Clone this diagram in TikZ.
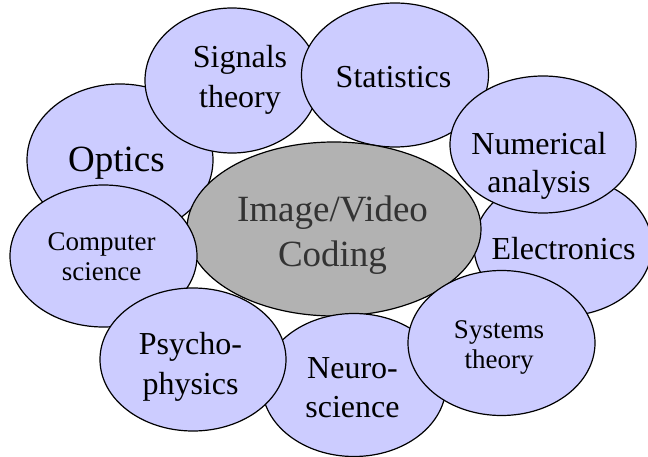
\documentclass[tikz,border=0pt]{standalone}
\usepackage{fontspec}
\setmainfont{Liberation Serif}
\usetikzlibrary{shapes.geometric}
\definecolor{lav}{HTML}{CCCCFF}
\definecolor{hubgray}{HTML}{B2B2B2}
\definecolor{hubtext}{HTML}{333333}
\tikzset{
  field/.style={ellipse, draw=black, line width=1.2pt, fill=lav, inner sep=0pt},
  hub/.style={ellipse, draw=black, line width=1.2pt, fill=hubgray, inner sep=0pt},
  % labels sit on the baseline of their last line
  lbl/.style={align=center, anchor=base, inner sep=0pt, text=black},
  big/.style={font=\fontsize{37}{44}\selectfont},
  mid/.style={font=\fontsize{32}{39}\selectfont},
  small/.style={font=\fontsize{27}{30}\selectfont}
}
\begin{document}
\begin{tikzpicture}[x=1pt,y=-1pt]
\useasboundingbox (0,0) rectangle (648,457);
% outer ring, back to front
\node[field, minimum width=186pt, minimum height=152pt] (opt) at (120,160) {};
\node[lbl, big] (optT) at (116.5,172) {Optics};
\node[field, minimum width=174pt, minimum height=145pt] (sig) at (232,80.5) {};
\node[lbl, mid, font=\fontsize{32}{40}\selectfont] (sigT) at (240,108) {Signals\\theory};
\node[field, minimum width=187pt, minimum height=144pt] (sta) at (395,75) {};
\node[lbl, mid] (staT) at (393.5,88) {Statistics};
\node[field, minimum width=178pt, minimum height=140pt] (ele) at (563,246) {};
\node[lbl, mid] (eleT) at (563.5,259) {Electronics};
\node[field, minimum width=186pt, minimum height=137pt] (num) at (543,144.5) {};
\node[lbl, mid, font=\fontsize{32}{38}\selectfont] (numT) at (539,193) {Numerical\\analysis};
% central topic
\node[hub, minimum width=294pt, minimum height=174pt] (hub) at (334,229) {};
\node[lbl, big, text=hubtext, font=\fontsize{37}{44.5}\selectfont] (hubT) at (332.5,266) {Image/Video\\Coding};
\node[field, minimum width=184pt, minimum height=143pt] (neu) at (354,385) {};
\node[lbl, mid] (neuT) at (352.5,417) {Neuro-\\science};
\node[field, minimum width=187pt, minimum height=145pt] (sys) at (501.5,343) {};
\node[lbl, small] (sysT) at (499,368) {Systems\\theory};
\node[field, minimum width=187pt, minimum height=142pt] (com) at (103.5,256) {};
\node[lbl, small] (comT) at (101.5,280) {Computer\\science};
\node[field, minimum width=186pt, minimum height=143pt] (psy) at (193,359.5) {};
\node[lbl, mid, font=\fontsize{32}{40}\selectfont] (psyT) at (190.5,394) {Psycho-\\physics};
\end{tikzpicture}
\end{document}
